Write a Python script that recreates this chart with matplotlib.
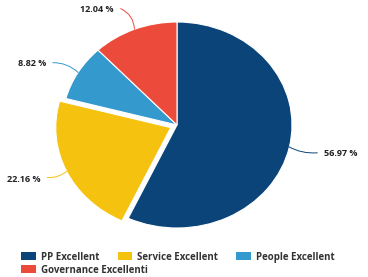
import matplotlib
matplotlib.use("Agg")
import matplotlib.pyplot as plt
from matplotlib.patches import Patch

labels = ["PP Excellent", "Service Excellent", "People Excellent", "Governance Excellenti"]
values = [56.97, 22.16, 8.82, 12.04]
colors = ["#0b4479", "#f4c20f", "#3499cc", "#ec4b3c"]
explode = [0, 0.06, 0, 0]

plt.rcParams["font.family"] = ["Open Sans", "DejaVu Sans"]

fig = plt.figure(figsize=(3.68, 2.77), dpi=100)
ax = fig.add_axes([0, 0, 1, 1])

wedges, _ = ax.pie(values, colors=colors, explode=explode, startangle=90,
                   counterclock=False, radius=1,
                   wedgeprops=dict(edgecolor="white", linewidth=0.8))
ax.set_aspect("auto")
ax.set_xlim(-177 / 115, (368 - 177) / 115)
ax.set_ylim((125 - 277) / 103, 125 / 103)
ax.axis("off")

# label text positions and connector anchors (data coords)
text_pos = [(1.28, -0.28), (-1.19, -0.53), (-1.14, 0.60), (-0.55, 1.12)]
edge_pos = [(0.97, -0.21), (-0.96, -0.45), (-0.86, 0.51), (-0.37, 0.93)]
line_end = [(1.22, -0.27), (-1.13, -0.51), (-1.08, 0.605), (-0.49, 1.13)]
has = ["left", "right", "right", "right"]
rads = [-0.15, 0.2, -0.2, -0.3]

for v, c, tp, ep, le, ha, r in zip(values, colors, text_pos, edge_pos, line_end, has, rads):
    ax.annotate("", xy=ep, xytext=le,
                arrowprops=dict(arrowstyle="-", color=c, lw=0.7,
                                connectionstyle=f"arc3,rad={r}",
                                shrinkA=0, shrinkB=0))
    ax.text(tp[0], tp[1], f"{v:.2f} %", ha=ha, va="center", fontsize=6.5,
            fontweight="bold", color="#222222")

handles = [Patch(facecolor=c, label=l) for c, l in zip(colors, labels)]
leg_kw = dict(loc="upper left", frameon=False, fontsize=7, handlelength=1.5,
              handleheight=0.8, handletextpad=0.5, columnspacing=1.9,
              borderaxespad=0, borderpad=0)

# two legend rows, like the wrapped html legend
leg1 = fig.legend(handles=handles[:3], ncol=3, bbox_to_anchor=(0.058, 0.092), **leg_kw)
leg2 = fig.legend(handles=handles[3:], ncol=1, bbox_to_anchor=(0.058, 0.045), **leg_kw)
for leg in (leg1, leg2):
    for t in leg.get_texts():
        t.set_color("#333333")
        t.set_fontweight("bold")

fig.savefig("out.png", dpi=100)
